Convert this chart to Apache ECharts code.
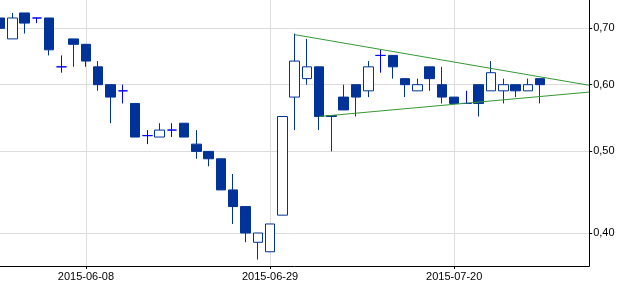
<!DOCTYPE html>
<html><head><meta charset="utf-8">
<script src="https://cdn.jsdelivr.net/npm/echarts@6/dist/echarts.min.js"></script>
<style>html,body{margin:0;padding:0;background:#fff}#c{width:635px;height:286px}</style>
</head><body><div id="c"></div>
<script>
const dates = ['2015-05-28','2015-05-29','2015-06-01','2015-06-02','2015-06-03','2015-06-04','2015-06-05',
'2015-06-08','2015-06-09','2015-06-10','2015-06-11','2015-06-12','2015-06-15','2015-06-16','2015-06-17','2015-06-18','2015-06-19',
'2015-06-22','2015-06-23','2015-06-24','2015-06-25','2015-06-26','2015-06-29','2015-06-30','2015-07-01','2015-07-02','2015-07-03',
'2015-07-06','2015-07-07','2015-07-08','2015-07-09','2015-07-10','2015-07-13','2015-07-14','2015-07-15','2015-07-16','2015-07-17',
'2015-07-20','2015-07-21','2015-07-22','2015-07-23','2015-07-24','2015-07-27','2015-07-28','2015-07-29','2015-07-30','2015-07-31',
'2015-08-03','2015-08-04'];
const openVals  = [0.72,0.68,0.73,0.72,0.72,0.63,0.68,0.67,0.63,0.60,0.59,0.57,0.522,0.52,0.53,0.54,0.51,0.50,0.49,0.45,0.43,0.39,0.38,0.42,0.58,0.61,0.63,0.5515,0.58,0.60,0.59,0.65,0.65,0.61,0.59,0.63,0.60,0.58,0.57,0.60,0.59,0.59,0.60,0.59,0.61];
const closeVals = [0.70,0.72,0.71,0.72,0.66,0.63,0.67,0.64,0.60,0.58,0.59,0.52,0.522,0.53,0.53,0.52,0.50,0.49,0.45,0.43,0.40,0.40,0.41,0.55,0.64,0.63,0.55,0.55,0.56,0.58,0.63,0.65,0.63,0.60,0.60,0.61,0.58,0.57,0.57,0.57,0.62,0.60,0.59,0.60,0.60];
const lowVals   = [0.70,0.68,0.69,0.71,0.65,0.62,0.63,0.63,0.59,0.54,0.57,0.52,0.51,0.52,0.52,0.52,0.49,0.48,0.45,0.41,0.39,0.372,0.38,0.42,0.53,0.60,0.53,0.50,0.56,0.55,0.58,0.62,0.61,0.58,0.59,0.59,0.57,0.57,0.57,0.55,0.59,0.57,0.58,0.59,0.57];
const highVals  = [0.72,0.73,0.73,0.72,0.72,0.65,0.68,0.67,0.64,0.60,0.60,0.57,0.53,0.54,0.54,0.54,0.53,0.50,0.49,0.47,0.43,0.40,0.41,0.55,0.69,0.68,0.63,0.5515,0.60,0.60,0.64,0.66,0.65,0.61,0.61,0.63,0.63,0.58,0.59,0.60,0.64,0.61,0.60,0.61,0.61];
const upperTrend = [['2015-07-01',0.688],['2015-08-04',0.599]];
const lowerTrend = [['2015-07-03',0.55],['2015-08-04',0.588]];
const xLabelDates = ['2015-06-08','2015-06-29','2015-07-20'];
const yTicks = [0.40,0.50,0.60,0.70];

const candleData = dates.map((d,i)=> i<openVals.length ? [openVals[i],closeVals[i],lowVals[i],highVals[i]] : '-');
function trend(pts){ const a = dates.map(()=>'-'); pts.forEach(p=>{ a[dates.indexOf(p[0])] = p[1]; }); return a; }
const pick = (i, v) => xLabelDates.indexOf(v) >= 0;
const font = 'Liberation Sans, Arial, sans-serif';

const chart = echarts.init(document.getElementById('c'));
chart.setOption({
  animation:false,
  grid:{left:-3.9, right:45.8, top:0, bottom:20},
  xAxis:{type:'category', data:dates, boundaryGap:false,
    axisLine:{lineStyle:{color:'#000',width:1}},
    axisTick:{interval:pick, length:3, lineStyle:{color:'#000'}},
    axisLabel:{interval:pick, fontSize:11, color:'#000', margin:5, fontFamily:font},
    splitLine:{show:true, interval:pick, lineStyle:{color:'#dcdcdc',width:1}}},
  yAxis:{type:'log', logBase:10, position:'right', min:0.3655, max:0.7563,
    axisLine:{show:true, lineStyle:{color:'#000',width:1}},
    axisTick:{show:true, length:3, customValues:yTicks, lineStyle:{color:'#000'}},
    axisLabel:{customValues:yTicks, fontSize:11, color:'#000', margin:4, fontFamily:font,
      formatter:v=>Number(v).toFixed(2).replace('.',',')},
    splitLine:{show:true, lineStyle:{color:'#dcdcdc',width:1}}},
  series:[
    {type:'candlestick', data:candleData, barWidth:10,
      itemStyle:{color:'#ffffff', color0:'#003399', borderColor:'#003399', borderColor0:'#003399', borderColorDoji:'#0000ff', borderWidth:1}},
    {type:'line', data:trend(upperTrend), connectNulls:true, showSymbol:false, symbol:'none', lineStyle:{color:'#339933',width:1}, z:5},
    {type:'line', data:trend(lowerTrend), connectNulls:true, showSymbol:false, symbol:'none', lineStyle:{color:'#339933',width:1}, z:5}
  ]
});
</script></body></html>
